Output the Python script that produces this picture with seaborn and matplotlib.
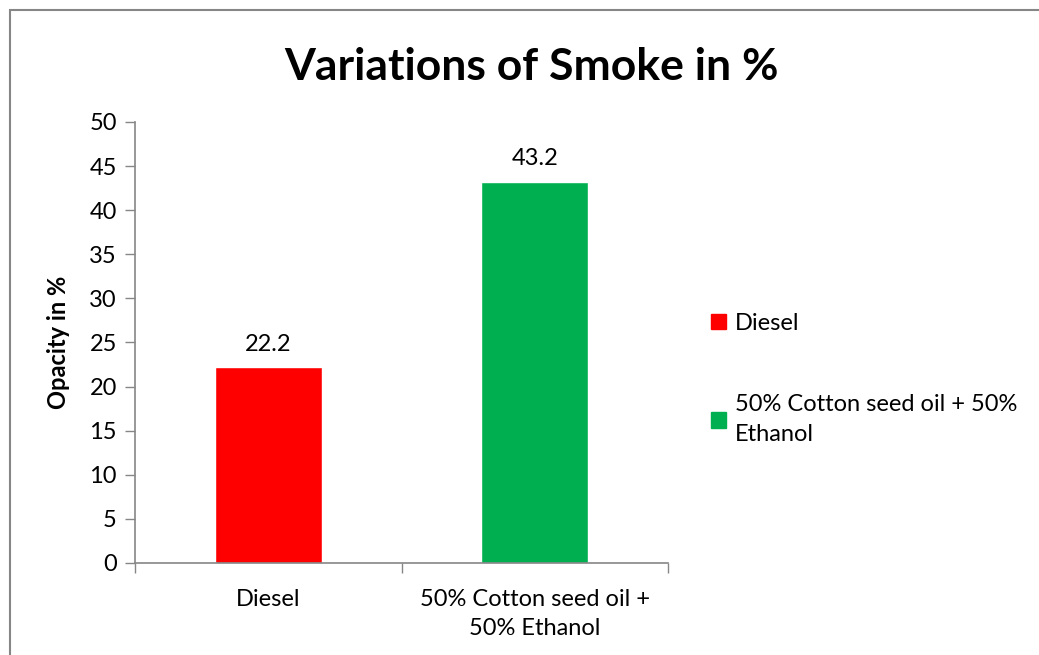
import matplotlib
matplotlib.use('Agg')
import matplotlib.pyplot as plt
import seaborn as sns
from matplotlib.patches import Rectangle

categories = ['Diesel', '50% Cotton seed oil +\n50% Ethanol']
legend_labels = ['Diesel', '50% Cotton seed oil + 50%\nEthanol']
opacity = [22.2, 43.2]
bar_colors = ['#ff0000', '#00b050']
y_ticks = [0, 5, 10, 15, 20, 25, 30, 35, 40, 45, 50]

sns.set_theme(style='white')
plt.rcParams['font.family'] = ['Lato', 'DejaVu Sans']
plt.rcParams['text.color'] = 'black'

fig = plt.figure(figsize=(10.39, 6.55), dpi=100)
ax = fig.add_axes([0.1299, 0.1405, 0.5131, 0.6733])

sns.barplot(x=categories, y=opacity, hue=categories, palette=bar_colors,
            width=0.4, saturation=1, legend=False, ax=ax)

ax.set_xlim(-0.5, 1.5)
ax.set_ylim(0, 50)
ax.set_yticks(y_ticks)
ax.tick_params(axis='y', labelsize=17, length=7, width=1, color='#868686',
               left=True, direction='out', pad=6, labelcolor='black')
ax.set_xticks([0, 1])
ax.set_xticklabels(categories, fontsize=17, linespacing=1.45)
ax.set_xticks([-0.5, 0.5, 1.5], minor=True)
ax.tick_params(axis='x', which='major', length=0, pad=19, labelcolor='black')
ax.tick_params(axis='x', which='minor', bottom=True, length=7, width=1,
               color='#868686', direction='out')
for side in ['top', 'right']:
    ax.spines[side].set_visible(False)
for side in ['left', 'bottom']:
    ax.spines[side].set_color('#868686')
    ax.spines[side].set_linewidth(1.2)

ax.set_ylabel('Opacity in %', fontsize=17, fontweight='bold', labelpad=14,
              color='black')

# value labels above the bars
for cont in ax.containers:
    ax.bar_label(cont, fmt='%.1f', padding=9, fontsize=17, color='black')

handles = [Rectangle((0, 0), 1, 1, color=c) for c in bar_colors]
leg = fig.legend(handles, legend_labels, loc='upper left',
                 bbox_to_anchor=(0.664, 0.555), frameon=False, fontsize=17,
                 handlelength=0.65, handleheight=0.65, handletextpad=0.35,
                 labelspacing=2.55, labelcolor='black')
for txt in leg.get_texts():
    txt.set_linespacing(1.55)

fig.suptitle('Variations of Smoke in %', x=0.512, y=0.928, fontsize=32,
             fontweight='bold', color='black')

# outer chart border
fig.patches.append(Rectangle((10 / 1039, -0.05), 1.1, 1 - 10 / 655 + 0.05,
                             transform=fig.transFigure, fill=False,
                             edgecolor='#868686', linewidth=1.5))

fig.savefig('out.png', dpi=100)
